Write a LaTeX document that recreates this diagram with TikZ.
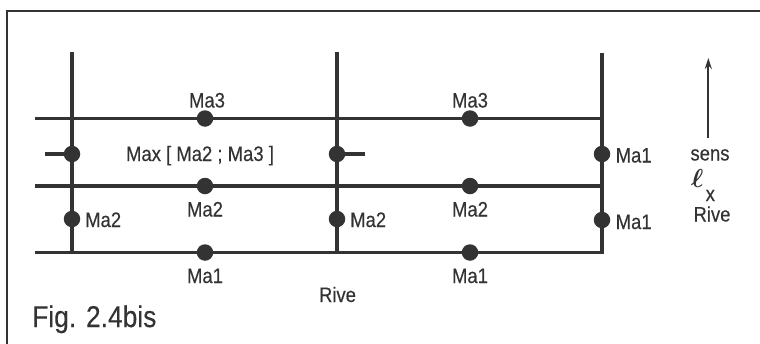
\documentclass[tikz,border=0pt]{standalone}
\usepackage{graphicx}
\usepackage{fontspec}
\setmainfont{Liberation Sans}
\newfontfamily\narfont[FakeStretch=0.88,FakeBold=0.3]{Liberation Sans}
\usetikzlibrary{arrows.meta}
\definecolor{ink}{HTML}{333333}
\tikzset{
  grid/.style={draw=ink, line width=3.6pt},
  frame/.style={draw=ink, line width=2.6pt},
  dot/.style={circle, fill=ink, inner sep=0pt, minimum size=16.5pt},
  lbl/.style={text=ink, font=\narfont\fontsize{21}{22}\selectfont, inner sep=0pt, anchor=base},
  lblw/.style={lbl, anchor=base west},
}
\begin{document}
\begin{tikzpicture}[x=1pt,y=-1pt]
\useasboundingbox (0,0) rectangle (760,343);
% frame
\coordinate (f1) at (7,345);
\coordinate (f2) at (7,11);
\coordinate (f3) at (762,11);
\draw[frame] (f1) -- (f2) -- (f3);
% grid coordinates
\coordinate (v1t) at (72,52);  \coordinate (v1b) at (72,252);
\coordinate (v2t) at (337,52); \coordinate (v2b) at (337,252);
\coordinate (v3t) at (602,53); \coordinate (v3b) at (602,254.3);
\coordinate (h1l) at (35,118.5); \coordinate (h1r) at (602,118.5);
\coordinate (h2l) at (35,186);   \coordinate (h2r) at (602,186);
\coordinate (h3l) at (35,252.5); \coordinate (h3r) at (603.8,252.5);
\draw[grid] (v1t) -- (v1b);
\draw[grid] (v2t) -- (v2b);
\draw[grid] (v3t) -- (v3b);
\draw[grid] (h1l) -- (h1r);
\draw[grid] (h2l) -- (h2r);
\draw[grid] (h3l) -- (h3r);
% dots
\node[dot] (d13) at (205,118.5) {};
\node[dot] (d23) at (470,118.5) {};
\node[dot] (d12) at (205,186) {};
\node[dot] (d22) at (470,186) {};
\node[dot] (d11) at (205,252.5) {};
\node[dot] (d21) at (470,252.5) {};
\node[dot] (c1a) at (72,154) {};
\node[dot] (c2a) at (337,154) {};
\node[dot] (c1b) at (72,219) {};
\node[dot] (c2b) at (337,219) {};
\node[dot] (c3a) at (602,154) {};
\node[dot] (c3b) at (602,220) {};
% stubs
\coordinate (s1) at (45,154);
\coordinate (s2) at (365,154);
\draw[grid] (s1) -- (c1a.center);
\draw[grid] (c2a.center) -- (s2);
% labels
\node[lbl] (t13) at (207,107.5) {Ma3};
\node[lbl] (t23) at (470,107.5) {Ma3};
\node[lbl] (tmax) at (200,161) {Max [ Ma2 ; Ma3 ]};
\node[lbl] (t12) at (205,216.5) {Ma2};
\node[lbl] (t22) at (470,216.5) {Ma2};
\node[lbl] (t11) at (205,283) {Ma1};
\node[lbl] (t21) at (470,283) {Ma1};
\node[lblw] (tc1b) at (85,227) {Ma2};
\node[lblw] (tc2b) at (350,227) {Ma2};
\node[lblw] (tc3a) at (615.5,162.5) {Ma1};
\node[lblw] (tc3b) at (615.5,229) {Ma1};
\node[lbl] (rive) at (337.5,302) {Rive};
\node[text=ink, font=\narfont\fontsize{30}{32}\selectfont, anchor=base west, inner sep=0pt] (fig) at (32,327) {Fig. 2.4bis};
% sens arrow
\node[lbl] (sens) at (710,160.5) {sens};
\node[text=ink, inner sep=0pt, anchor=base west] (ell) at (691,187) {\scalebox{2.6}{\boldmath$\ell$}};
\node[lblw] (sub) at (705.5,201) {x};
\node[lbl] (rive2) at (712,221.5) {Rive};
\coordinate (atip) at (708.3,58);
\coordinate (abot) at (708.3,138);
\draw[draw=ink, line width=1.8pt, -{Stealth[length=11pt,width=7pt]}] (abot) -- (atip);
\end{tikzpicture}
\end{document}
